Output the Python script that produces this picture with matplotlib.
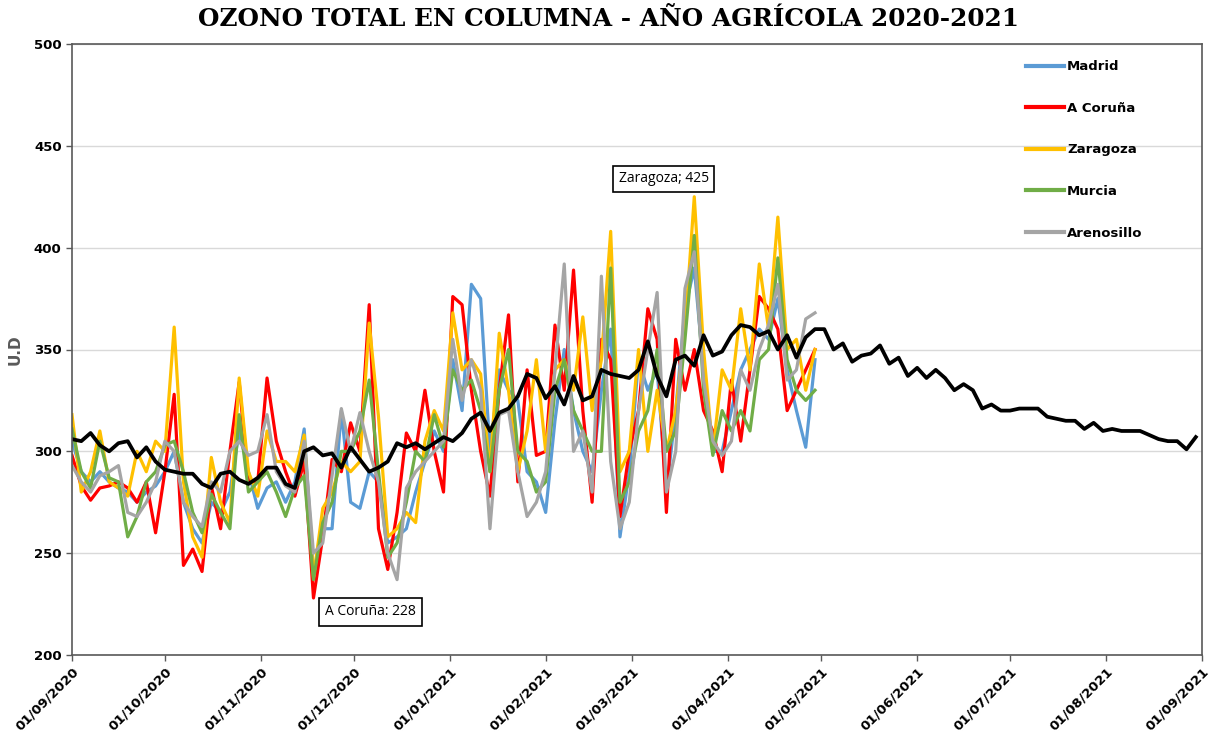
import matplotlib
matplotlib.use("Agg")
import matplotlib.pyplot as plt
import matplotlib.dates as mdates
import pandas as pd

# ---------------- data (3-day sampling) ----------------
series_start = "2020-09-01"
madrid = [305, 290, 285, 290, 285, 282, 280, 275, 280, 283,
          290, 300, 275, 262, 255, 275, 270, 280, 310, 290,
          272, 282, 285, 275, 285, 311, 240, 262, 262, 320,
          275, 272, 290, 285, 255, 258, 262, 280, 295, 310,
          300, 345, 320, 382, 375, 300, 340, 330, 325, 290,
          285, 270, 315, 350, 320, 300, 290, 330, 360, 258,
          290, 345, 330, 340, 280, 320, 370, 390, 340, 300,
          300, 320, 340, 350, 360, 355, 375, 340, 320, 302, 345]
coruna = [298, 283, 276, 282, 283, 285, 282, 275, 285, 260,
          290, 328, 244, 252, 241, 283, 262, 300, 334, 285,
          285, 336, 305, 290, 278, 295, 228, 258, 296, 290,
          314, 300, 372, 262, 242, 270, 309, 300, 330, 300,
          280, 376, 372, 330, 300, 278, 330, 367, 285, 340,
          298, 300, 362, 330, 389, 320, 275, 355, 345, 268,
          300, 320, 370, 355, 270, 355, 330, 350, 320, 310,
          290, 335, 305, 340, 376, 370, 360, 320, 330, 340, 350]
zaragoza = [318, 280, 290, 310, 285, 282, 278, 300, 290, 305,
            300, 361, 285, 258, 248, 297, 275, 265, 336, 290,
            278, 310, 295, 295, 290, 308, 238, 272, 280, 295,
            290, 295, 363, 317, 258, 262, 270, 265, 305, 320,
            310, 368, 340, 345, 338, 290, 358, 330, 290, 310,
            345, 300, 340, 345, 330, 366, 320, 345, 408, 290,
            300, 350, 300, 330, 300, 320, 360, 425, 350, 300,
            340, 330, 370, 340, 392, 360, 415, 350, 355, 330, 350]
murcia = [311, 290, 282, 305, 287, 285, 258, 268, 285, 290,
          303, 305, 290, 270, 260, 279, 270, 262, 318, 280,
          285, 290, 280, 268, 282, 288, 237, 265, 275, 300,
          300, 310, 335, 290, 248, 255, 275, 300, 295, 318,
          302, 340, 330, 335, 320, 290, 330, 350, 300, 295,
          280, 285, 330, 345, 320, 310, 300, 300, 390, 275,
          285, 310, 320, 350, 300, 310, 355, 406, 330, 298,
          320, 310, 320, 310, 345, 350, 395, 345, 330, 325, 330]
arenosillo = [293, 285, 280, 288, 290, 293, 270, 268, 275, 285,
              305, 300, 275, 268, 263, 285, 280, 300, 305, 298,
              300, 318, 290, 283, 280, 305, 250, 255, 288, 321,
              300, 319, 300, 285, 250, 237, 282, 290, 295, 300,
              305, 355, 325, 345, 330, 262, 318, 320, 290, 268,
              275, 290, 340, 392, 300, 310, 280, 386, 295, 262,
              275, 320, 350, 378, 280, 300, 380, 398, 335, 305,
              298, 305, 340, 330, 350, 362, 382, 335, 340, 365, 368]
mean_all = [306, 305, 309, 303, 300, 304, 305, 297, 302, 295,
            291, 290, 289, 289, 284, 282, 289, 290, 286, 284,
            287, 292, 292, 284, 282, 300, 302, 298, 299, 292,
            302, 296, 290, 292, 295, 304, 302, 304, 301, 304,
            307, 305, 309, 316, 319, 310, 319, 321, 327, 338,
            336, 326, 332, 323, 337, 325, 327, 340, 338, 337,
            336, 340, 354, 337, 327, 345, 347, 342, 357, 347,
            349, 357, 362, 361, 357, 359, 350, 357, 346, 356,
            360, 360, 350, 353, 344, 347, 348, 352, 343, 346,
            337, 341, 336, 340, 336, 330, 333, 330, 321, 323,
            320, 320, 321, 321, 321, 317, 316, 315, 315, 311,
            314, 310, 311, 310, 310, 310, 308, 306, 305, 305,
            301, 307]

names = ["Madrid", "A Coruña", "Zaragoza", "Murcia", "Arenosillo"]
colors = ["#5B9BD5", "#FF0000", "#FFC000", "#70AD47", "#A5A5A5"]

dates = pd.date_range(series_start, periods=len(madrid), freq="3D")
mean_dates = pd.date_range(series_start, periods=len(mean_all), freq="3D")

# ---------------- figure ----------------
fig = plt.figure(figsize=(12.18, 7.46), dpi=100)
ax = fig.add_axes([72 / 1218, 1 - 655 / 746, (1202 - 72) / 1218, (655 - 44) / 746])

for name, vals, col in zip(names, [madrid, coruna, zaragoza, murcia, arenosillo], colors):
    ax.plot(dates, vals, color=col, lw=2.3, label=name, solid_joinstyle="round")
ax.plot(mean_dates, mean_all, color="black", lw=2.7, solid_joinstyle="round", label="_nolegend_")

ax.set_xlim(pd.Timestamp("2020-09-01"), pd.Timestamp("2021-09-01"))
ax.set_ylim(200, 500)
ax.set_yticks([200, 250, 300, 350, 400, 450, 500])
ax.yaxis.grid(True, color="#D9D9D9", lw=1)
ax.set_axisbelow(True)

ax.xaxis.set_major_locator(mdates.MonthLocator(bymonthday=1))
ax.xaxis.set_major_formatter(mdates.DateFormatter("%d/%m/%Y"))
for lab in ax.get_xticklabels():
    lab.set_rotation(45)
    lab.set_ha("right")
    lab.set_rotation_mode("anchor")
    lab.set_fontweight("bold")
    lab.set_fontsize(9.5)
for lab in ax.get_yticklabels():
    lab.set_fontweight("bold")
    lab.set_fontsize(9.5)
ax.tick_params(axis="both", direction="out", length=4, color="#595959", width=1)
ax.tick_params(axis="x", pad=3)
for sp in ax.spines.values():
    sp.set_color("#595959")
    sp.set_linewidth(1.2)

ax.set_ylabel("U.D", fontweight="bold", color="#595959", fontsize=11, labelpad=8)

fig.text(0.5, 1 - 19 / 746, "OZONO TOTAL EN COLUMNA - AÑO AGRÍCOLA 2020-2021",
         ha="center", va="center", fontsize=17.8, fontweight="bold", family="DejaVu Serif")

leg = ax.legend(loc="upper right", frameon=False, handlelength=2.9,
                labelspacing=2.17, handletextpad=0.25, bbox_to_anchor=(0.958, 0.993),
                prop={"weight": "bold", "size": 9.5})
for h in leg.get_lines():
    h.set_linewidth(3)

# annotations
zi = zaragoza.index(max(zaragoza))
ax.annotate(f"Zaragoza; {max(zaragoza)}", xy=(dates[zi], zaragoza[zi]),
            xytext=(-22, 13), textcoords="offset points", ha="center", va="center",
            fontsize=10, family="Open Sans",
            bbox=dict(boxstyle="square,pad=0.4", fc="white", ec="black", lw=1.2))
ci = coruna.index(min(coruna))
ax.annotate(f"A Coruña: {min(coruna)}", xy=(dates[ci], coruna[ci]),
            xytext=(41, -10), textcoords="offset points", ha="center", va="center",
            fontsize=10, family="Open Sans",
            bbox=dict(boxstyle="square,pad=0.45", fc="white", ec="black", lw=1.2))

fig.savefig("out.png", dpi=100)
